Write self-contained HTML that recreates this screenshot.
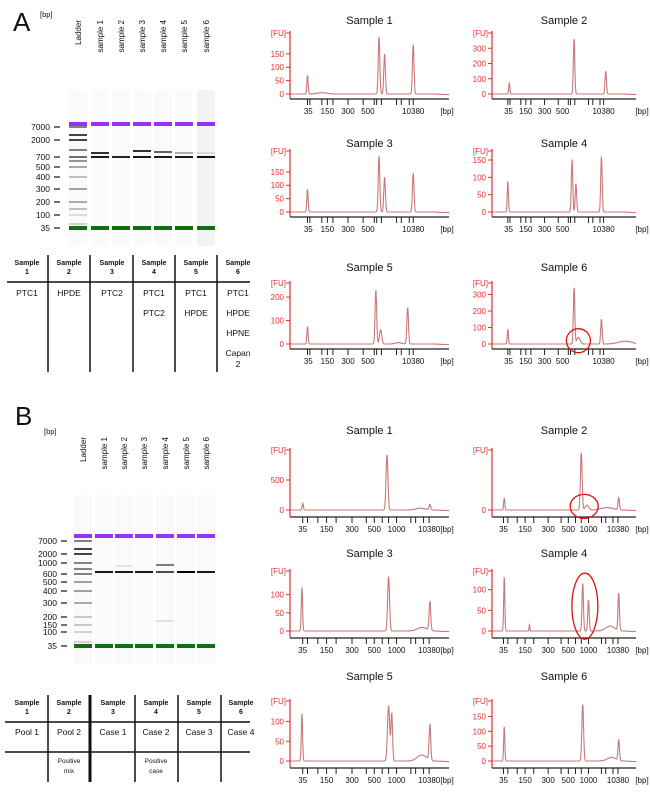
<!DOCTYPE html>
<html><head><meta charset="utf-8"><style>
html,body{margin:0;padding:0;background:#fff}
svg{display:block;font-family:"Liberation Sans",sans-serif}
.tt{font-size:11px;fill:#111}
.yt{font-size:8px;fill:#e03030}
.xt{font-size:8px;fill:#111}
.tb{font-size:7px;fill:#111;font-weight:bold}
.tr{font-size:8.5px;fill:#111}
</style></head><body>
<svg id="fig" width="650" height="793" viewBox="0 0 650 793">
<g id="gels"></g>
<g id="tables"></g>
<g id="charts"></g>
</svg>
<script>
const NS="http://www.w3.org/2000/svg";
function mk(tag,attrs,parent,txt){const e=document.createElementNS(NS,tag);for(const k in attrs)e.setAttribute(k,attrs[k]);if(txt!==undefined)e.textContent=txt;parent.appendChild(e);return e;}

// ---------- chart data ----------
const chartTitles=["Sample 1","Sample 2","Sample 3","Sample 4","Sample 5","Sample 6"];
const xTickLabelsA=["35","150","300","500","10380"];
const xTickLabelsB=["35","150","300","500","1000","10380"];
// peaks: [position on bp axis (0-1), height FU, width]
const peaksA1=[[0.11,70,.004],[0.56,215,.005],[0.595,150,.005],[0.775,185,.005],[0.2,5,.03]];
const peaksA2=[[0.12,70,.004],[0.57,360,.005],[0.79,150,.005]];
const peaksA3=[[0.11,85,.004],[0.56,210,.005],[0.595,130,.005],[0.775,145,.005]];
const peaksA4=[[0.11,88,.004],[0.556,150,.005],[0.583,82,.005],[0.76,160,.005]];
const peaksA5=[[0.11,74,.004],[0.54,230,.005],[0.57,60,.007],[0.74,155,.005],[0.68,6,.02]];
const peaksA6=[[0.11,90,.004],[0.57,340,.005],[0.6,40,.012],[0.76,150,.005],[0.93,18,.05]];
const peaksB1=[[0.08,110,.004],[0.61,920,.006],[0.88,90,.005],[0.82,30,.03]];
const peaksB2=[[0.085,200,.004],[0.62,950,.006],[0.66,80,.012],[0.88,200,.005],[0.8,40,.04]];
const peaksB3=[[0.075,120,.004],[0.62,150,.006],[0.88,80,.005],[0.83,10,.03]];
const peaksB4=[[0.085,130,.004],[0.26,15,.003],[0.63,115,.005],[0.67,75,.005],[0.88,90,.005],[0.82,12,.03]];
const peaksB5=[[0.075,120,.004],[0.62,140,.007],[0.64,120,.005],[0.88,90,.005],[0.83,15,.03]];
const peaksB6=[[0.085,115,.004],[0.63,190,.006],[0.88,70,.005],[0.83,12,.03]];
const yTicks1=[0,50,100,150],yTicks2=[0,100,200,300],yTicks5=[0,100,200];
const yTicksB1=[0,500],yTicksB2=[0],yTicksB3=[0,50,100],yTicksB6=[0,50,100,150];
const yMaxA=[228,400,228,176,260,370];
const yMaxB=[1000,1000,165,145,152,202];

// layout
const colX=[[290,159],[492,144]];
const rowsA=[[20,94],[143,212],[267,344]];
const rowsB=[[430,510],[553,631],[676,761]];
const tickFracA=[0.11,0.125,0.2,0.235,0.27,0.365,0.46,0.53,0.545,0.575,0.67,0.7,0.75,0.775];
const tickLabPosA=[0.115,0.235,0.365,0.49,0.775];
const tickFracB=[0.08,0.11,0.175,0.23,0.29,0.39,0.48,0.53,0.58,0.62,0.67,0.76,0.79,0.84,0.875];
const tickLabPosB=[0.08,0.23,0.39,0.53,0.67,0.875];

function chart(id,title,ax,w,titleY,base,ymax,yticks,peaks,ticks,labs,labPos,axOff,circle){
  const g=mk('g',{},document.getElementById('charts'));
  
  
  const top=base-(axOff>6?60:61);
  const xs=f=>ax+f*w, ys=v=>base-(v/ymax)*(base-top);
  const t=mk('text',{x:ax+w/2,y:titleY+4,'text-anchor':'middle',class:'tt'},g,title);
  
  const fu=mk('text',{x:ax-4,y:top+3,'text-anchor':'end',class:'yt'},g,'[FU]');
  
  let d='';
  for(let i=0;i<=600;i++){const f=i/600;let v=0;
    for(const p of peaks){const z=(f-p[0])/p[2];v+=p[1]*Math.exp(-0.5*z*z);}
    if(f>0.9)v-=ymax*0.01*(f-0.9)*10;
    d+=(i?'L':'M')+xs(f).toFixed(1)+','+ys(v).toFixed(1);}
  const tr=mk('path',{d:d,fill:'none',stroke:'#c9797a','stroke-width':1.1},g);
  
  const axisY=base+axOff;
  mk('line',{x1:ax,y1:top-2,x2:ax,y2:axisY,stroke:'#e03030','stroke-width':1.2},g);
  mk('line',{x1:ax,y1:axisY,x2:ax+w,y2:axisY,stroke:'#222','stroke-width':1.2},g);
  mk('line',{x1:ax-4,y1:top,x2:ax,y2:top,stroke:'#e03030'},g);
  for(const v of yticks){mk('line',{x1:ax-4,y1:ys(v),x2:ax,y2:ys(v),stroke:'#e03030'},g);
    const l=mk('text',{x:ax-6,y:ys(v)+3,'text-anchor':'end',class:'yt'},g,String(v));
    }
  for(const f of ticks)mk('line',{x1:xs(f),y1:axisY,x2:xs(f),y2:axisY+6,stroke:'#222'},g);
  labs.forEach((s,i)=>{const l=mk('text',{x:xs(labPos[i]),y:axisY+15,'text-anchor':'middle',class:'xt'},g,s);
    });
  const bp=mk('text',{x:ax+w+(w<150?6:-2),y:axisY+15,'text-anchor':'middle',class:'xt'},g,'[bp]');
  
  if(circle){const c=mk('ellipse',{cx:xs(circle[0]),cy:ys(circle[1]),rx:circle[2],ry:circle[3],fill:'none',stroke:'#e01010','stroke-width':1.3},g);
    }
}
const pA=[peaksA1,peaksA2,peaksA3,peaksA4,peaksA5,peaksA6];
const yA=[yTicks1,yTicks2,yTicks1,yTicks1,yTicks5,yTicks2];
const pB=[peaksB1,peaksB2,peaksB3,peaksB4,peaksB5,peaksB6];
const yB=[yTicksB1,yTicksB2,yTicksB3,yTicksB3,yTicksB3,yTicksB6];
for(let i=0;i<6;i++){const c=colX[i%2],r=rowsA[Math.floor(i/2)];
  chart('chart-a-sample-'+(i+1),chartTitles[i],c[0],c[1],r[0],r[1],yMaxA[i],yA[i],pA[i],tickFracA,xTickLabelsA,tickLabPosA,5,i==5?[0.6,20,12,12]:null);}
for(let i=0;i<6;i++){const c=colX[i%2],r=rowsB[Math.floor(i/2)];
  let circ=null;if(i==1)circ=[0.64,60,14,12];if(i==3)circ=[0.645,60,13,33];
  chart('chart-b-sample-'+(i+1),chartTitles[i],c[0],c[1],r[0],r[1],yMaxB[i],yB[i],pB[i],tickFracB,xTickLabelsB,tickLabPosB,7,circ);}

// ---------- gels ----------
const laneNames=["Ladder","sample 1","sample 2","sample 3","sample 4","sample 5","sample 6"];
const ladderLabelsA=["7000","2000","700","500","400","300","200","100","35"];
const ladderYA=[127,140,157,167,177,189,202,215,228];
const ladderLabelsB=["7000","2000","1000","600","500","400","300","200","150","100","35"];
const ladderYB=[541,554,563,574,582,591,603,617,625,632,646];
function gel(letter,lx,ly,bpY,laneX,laneTop,labelTop,purple,green,labels,labY,ladderBands,sampleBands){
  const g=mk('g',{},document.getElementById('gels'));
  
  const L=mk('text',{x:lx,y:ly,'font-size':26,fill:'#111'},g,letter);
  
  mk('text',{x:bpY[0],y:bpY[1],'font-size':7.5,fill:'#111'},g,'[bp]');
  laneX.forEach((cx,i)=>{
    mk('rect',{x:cx-9,y:laneTop,width:18,height:green+18-laneTop,fill:i==6&&letter=='A'?'#f3f3f3':'#fafafa'},g);
    const t=mk('text',{x:0,y:0,'font-size':8,fill:'#111','text-anchor':'end',transform:`translate(${cx+3},${labelTop}) rotate(-90)`},g,laneNames[i]);
    
    mk('rect',{x:cx-9,y:purple-2,width:18,height:4,fill:'#9a30f0'},g);
    mk('rect',{x:cx-9,y:green-2,width:18,height:4,fill:'#107010'},g);
  });
  for(const b of ladderBands)mk('rect',{x:laneX[0]-9,y:b[0]-0.8,width:18,height:1.6,fill:'#000',opacity:b[1]},g);
  for(const b of sampleBands)mk('rect',{x:laneX[b[0]]-9,y:b[1]-1,width:18,height:2,fill:'#000',opacity:b[2]},g);
  labels.forEach((s,i)=>{const t=mk('text',{x:labY[0],y:labY[1][i]+3,'font-size':8.5,fill:'#111','text-anchor':'end'},g,s);
    
    mk('line',{x1:labY[0]+4,y1:labY[1][i],x2:labY[0]+10,y2:labY[1][i],stroke:'#111','stroke-width':1.2},g);});
}
gel('A',13,31,[40,17],[78,100,121,142,163,184,206],90,20,124,228,ladderLabelsA,[50,ladderYA],
  [[127,.6],[135,.9],[140,.9],[150,.6],[157,.7],[161,.5],[167,.4],[177,.3],[189,.45],[202,.4],[209,.3],[215,.15],[224,.2]],
  [[1,153,.8],[1,157,.9],[2,157,.85],[3,151,.8],[3,157,.9],[4,152,.6],[4,157,.9],[5,153,.3],[5,157,.9],[6,153,.1],[6,157,.95]]);
gel('B',15,425,[44,434],[83,104,124,144,165,186,206],495,437,536,646,ladderLabelsB,[57,ladderYB],
  [[541,.6],[549,.9],[554,.9],[563,.6],[569,.6],[574,.6],[582,.45],[591,.45],[603,.4],[617,.25],[625,.25],[632,.2],[642,.2]],
  [[1,572,.9],[2,572,.9],[2,566,.08],[3,572,.9],[4,572,.7],[4,565,.5],[4,621,.1],[5,572,1],[6,572,.9]]);

// ---------- tables ----------
const tableA=[["PTC1"],["HPDE"],["PTC2"],["PTC1","PTC2"],["PTC1","HPDE"],["PTC1","HPDE","HPNE","Capan|2"]];
const tableB=[["Pool 1",""],["Pool 2","Positive|mix"],["Case 1",""],["Case 2","Positive|case"],["Case 3",""],["Case 4",""]];
(function(){
  const g=document.getElementById('tables');
  const cA=[27,69,112,154,196,238],sA=[48,90,133,175,217];
  const ga=mk('g',{},g);
  cA.forEach((cx,i)=>{mk('text',{x:cx,y:265,'text-anchor':'middle',class:'tb'},ga,'Sample');mk('text',{x:cx,y:274,'text-anchor':'middle',class:'tb'},ga,String(i+1));
    tableA[i].forEach((s,j)=>{const p=s.split('|');p.forEach((q,k)=>mk('text',{x:cx,y:296+j*20+k*11,'text-anchor':'middle',class:'tr'},ga,q));});});
  mk('line',{x1:7,y1:282,x2:250,y2:282,stroke:'#111','stroke-width':1.5},ga);
  sA.forEach(x=>mk('line',{x1:x,y1:255,x2:x,y2:372,stroke:'#111','stroke-width':1.5},ga));
  const cB=[27,69,113,156,199,241],sB=[48,90,135,178,221];
  const gb=mk('g',{},g);
  cB.forEach((cx,i)=>{mk('text',{x:cx,y:705,'text-anchor':'middle',class:'tb'},gb,'Sample');mk('text',{x:cx,y:714,'text-anchor':'middle',class:'tb'},gb,String(i+1));
    mk('text',{x:cx,y:735,'text-anchor':'middle',class:'tr'},gb,tableB[i][0]);
    tableB[i][1].split('|').forEach((q,k)=>{if(q)mk('text',{x:cx,y:763+k*10,'text-anchor':'middle','font-size':6.5,fill:'#111'},gb,q);});});
  mk('line',{x1:5,y1:722,x2:250,y2:722,stroke:'#111','stroke-width':1.5},gb);
  mk('line',{x1:5,y1:752,x2:250,y2:752,stroke:'#111','stroke-width':1.5},gb);
  sB.forEach((x,i)=>mk('line',{x1:x,y1:695,x2:x,y2:782,stroke:'#111','stroke-width':i==1?3:1.5},gb));
})();
</script>
</body></html>
